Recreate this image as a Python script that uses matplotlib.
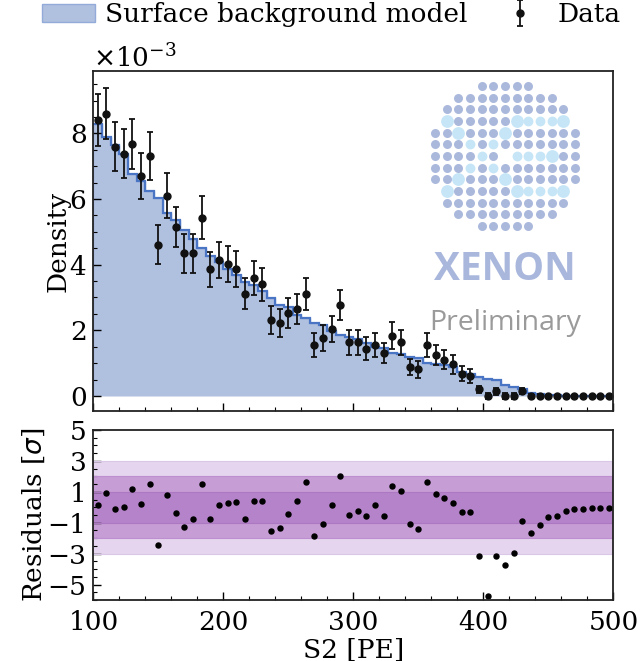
import numpy as np
import matplotlib
matplotlib.use('Agg')
import matplotlib.pyplot as plt
from matplotlib.patches import Patch
from matplotlib.ticker import MultipleLocator

# binning: 60 bins between 100 and 500 PE
s2_lo, s2_hi, n_bins = 100, 500, 60

# values in units of 1e-3
data = [8.40, 8.60, 7.59, 7.38, 7.67, 6.70, 7.31, 4.61, 6.10, 5.15,
        4.34, 4.34, 5.43, 3.86, 4.14, 4.01, 3.86, 3.12, 3.60, 3.40,
        2.31, 2.23, 2.52, 2.65, 3.11, 1.56, 1.77, 2.04, 2.78, 1.63,
        1.63, 1.44, 1.56, 1.31, 1.84, 1.63, 0.88, 0.81, 1.56, 1.24,
        1.10, 0.96, 0.68, 0.60, 0.20, 0.00, 0.14, 0.00, 0.00, 0.14,
        0.00, 0.00, 0.00, 0.00, 0.00, 0.00, 0.00, 0.00, 0.00, 0.00]
data_err = [0.80, 0.78, 0.75, 0.74, 0.76, 0.71, 0.74, 0.59, 0.68, 0.62,
            0.58, 0.58, 0.65, 0.54, 0.56, 0.55, 0.55, 0.48, 0.52, 0.51,
            0.43, 0.42, 0.45, 0.47, 0.49, 0.36, 0.39, 0.41, 0.46, 0.37,
            0.37, 0.35, 0.36, 0.31, 0.41, 0.37, 0.25, 0.25, 0.36, 0.30,
            0.29, 0.29, 0.24, 0.22, 0.10, 0.09, 0.11, 0.09, 0.09, 0.09,
            0.06, 0.05, 0.04, 0.03, 0.03, 0.03, 0.03, 0.03, 0.03, 0.03]
model = [8.30, 7.88, 7.64, 7.36, 6.77, 6.54, 6.25, 6.02, 5.57, 5.35,
         5.05, 4.77, 4.50, 4.26, 4.08, 3.87, 3.68, 3.48, 3.38, 3.19,
         2.97, 2.78, 2.72, 2.46, 2.36, 2.22, 2.17, 1.98, 1.87, 1.81,
         1.73, 1.62, 1.50, 1.47, 1.32, 1.28, 1.19, 1.14, 1.00, 0.96,
         0.93, 0.88, 0.72, 0.67, 0.57, 0.52, 0.49, 0.33, 0.26, 0.20,
         0.10, 0.05, 0.03, 0.02, 0.01, 0.005, 0.004, 0.002, 0.002, 0.002]
residuals = [0.13, 0.92, -0.11, 0.00, 1.18, 0.24, 1.48, -2.46, 0.79, -0.34,
             -1.26, -0.75, 1.48, -0.77, 0.15, 0.28, 0.32, -0.77, 0.41, 0.41,
             -1.54, -1.33, -0.45, 0.43, 1.63, -1.88, -1.09, 0.15, 2.03, -0.51,
             -0.26, -0.54, 0.17, -0.54, 1.39, 1.03, -1.11, -1.41, 1.63, 0.86,
             0.60, 0.26, -0.30, -0.30, -3.17, -5.72, -3.13, -3.75, -2.98, -0.90,
             -1.65, -1.13, -0.66, -0.56, -0.24, -0.11, -0.09, -0.02, -0.02, -0.02]

# XENON logo dot pattern (dots per row, highlighted cells as (row, col, size))
logo_row_counts = [5, 9, 11, 11, 13, 13, 13, 13, 13, 11, 11, 9, 5]
logo_missing = [(6, 6)]
logo_light = [(3, 1, 'L'), (3, 7, 'L'), (3, 8, 'M'), (3, 9, 'M'), (3, 10, 'M'), (3, 11, 'L'),
              (4, 2, 'L'), (4, 6, 'L'), (5, 3, 'M'), (5, 5, 'M'),
              (6, 4, 'M'), (6, 7, 'M'), (6, 8, 'M'), (6, 9, 'M'), (6, 10, 'L'),
              (7, 3, 'M'), (7, 5, 'M'), (8, 2, 'L'), (8, 6, 'L'),
              (9, 1, 'L'), (9, 7, 'L'), (9, 8, 'M'), (9, 9, 'M'), (9, 10, 'M'), (9, 11, 'L')]

plt.rcParams['font.family'] = 'DejaVu Serif'
plt.rcParams['mathtext.fontset'] = 'dejavusans'
plt.rcParams['font.size'] = 19

edges = np.linspace(s2_lo, s2_hi, n_bins + 1)
centers = 0.5 * (edges[1:] + edges[:-1])
scale = 1e-3

fill_col = '#b0c0df'
line_col = '#4a74c4'

fig = plt.figure(figsize=(6.43, 6.61), dpi=100)
ax = fig.add_axes([0.1454, 0.3782, 0.8087, 0.5144])
rax = fig.add_axes([0.1454, 0.0923, 0.8087, 0.2572])

ax.stairs(np.array(model) * scale, edges, fill=True, facecolor=fill_col,
          edgecolor='#93abd9', linewidth=1)
ax.stairs(np.array(model) * scale, edges, baseline=None, color=line_col, linewidth=1.6)
eb = ax.errorbar(centers, np.array(data) * scale, yerr=np.array(data_err) * scale,
                 fmt='o', color='#111111', ms=5, capsize=2.5, elinewidth=1.3, capthick=1.3)

ax.set_xlim(s2_lo, s2_hi)
ax.set_ylim(-0.46e-3, 9.9e-3)
ax.ticklabel_format(axis='y', style='sci', scilimits=(0, 0), useMathText=True)
ax.yaxis.set_major_locator(MultipleLocator(2e-3))
ax.yaxis.set_minor_locator(MultipleLocator(0.5e-3))
ax.xaxis.set_major_locator(MultipleLocator(100))
ax.xaxis.set_minor_locator(MultipleLocator(20))
ax.tick_params(axis='x', labelbottom=False)
ax.set_ylabel('Density', labelpad=-1)

# residual bands
rax.axhspan(-3, 3, color='#e6d5ee', lw=0)
rax.axhspan(-2, 2, color='#c79dd6', lw=0)
rax.axhspan(-1, 1, color='#b583c9', lw=0)
for lvl, c in ((3, '#dac6e7'), (2, '#bd8fd0'), (1, '#ac78c2')):
    rax.axhline(lvl, color=c, lw=0.8)
    rax.axhline(-lvl, color=c, lw=0.8)
rax.plot(centers, residuals, 'o', color='k', ms=3.6)
rax.set_xlim(s2_lo, s2_hi)
rax.set_ylim(-6, 5)
rax.set_yticks([-5, -3, -1, 1, 3, 5])
rax.yaxis.set_minor_locator(MultipleLocator(0.5))
rax.xaxis.set_major_locator(MultipleLocator(100))
rax.xaxis.set_minor_locator(MultipleLocator(20))
rax.set_ylabel(r'Residuals [$\sigma$]', labelpad=0.5)
rax.set_xlabel('S2 [PE]', labelpad=2)

for a in (ax, rax):
    a.tick_params(which='both', direction='in', top=False, right=False)
    a.tick_params(which='major', length=6, width=1, pad=5)
    a.tick_params(which='minor', length=3, width=0.8)
    for sp in a.spines.values():
        sp.set_linewidth(1.3)
        sp.set_color('#222222')
rax.tick_params(axis='x', which='major', pad=7)

handles = [Patch(facecolor=fill_col, edgecolor='#93abd9'), eb]
fig.legend(handles, ['Surface background model', 'Data'], loc='upper left',
           bbox_to_anchor=(42 / 643, 1 - 2 / 661), ncol=2, frameon=False, fontsize=19,
           borderpad=0, borderaxespad=0, columnspacing=1.0, handletextpad=0.4)

# logo
lax = fig.add_axes([428 / 643, 1 - 233 / 661, 154 / 643, 154 / 661])
lax.set_xlim(-0.6, 12.6)
lax.set_ylim(-12.6, 0.6)
lax.axis('off')
light = {(r, c): s for r, c, s in logo_light}
for r, cnt in enumerate(logo_row_counts):
    start = (13 - cnt) // 2
    for c in range(start, start + cnt):
        if (r, c) in logo_missing:
            continue
        if (r, c) in light:
            sz = 85 if light[(r, c)] == 'L' else 50
            lax.scatter(c, -r, s=sz, color='#c6e6f7', lw=0)
        else:
            lax.scatter(c, -r, s=42, color='#aab8dc', lw=0)

fig.text(505 / 643, 1 - 270 / 661, 'XENON', ha='center', va='center',
         fontsize=28, fontweight='bold', color='#a9b7dd', family='Open Sans')
fig.text(505 / 643, 1 - 323 / 661, 'Preliminary', ha='center', va='center',
         fontsize=20.5, color='#9a9a9a', family='Open Sans')

fig.savefig('out.png', dpi=100)
